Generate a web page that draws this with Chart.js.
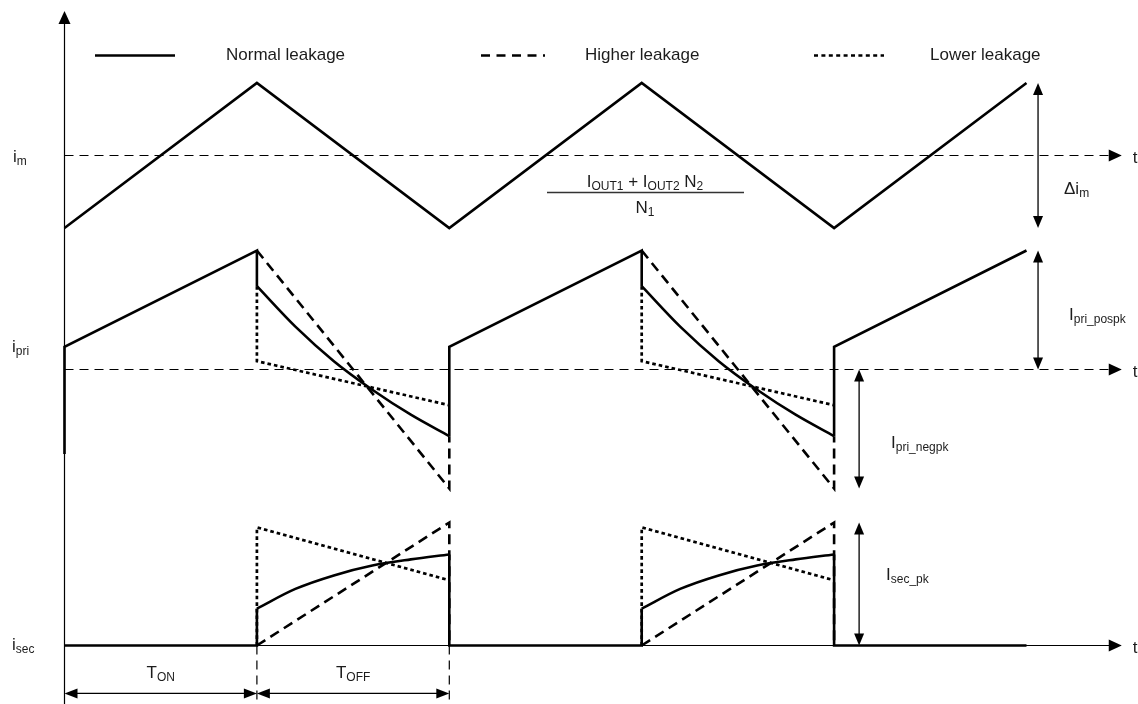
<!DOCTYPE html>
<html>
<head>
<meta charset="utf-8">
<title>Flyback current waveforms</title>
<script src="https://cdn.jsdelivr.net/npm/chart.js@4.4.1/dist/chart.umd.min.js"></script>
<style>
  html, body { margin: 0; padding: 0; background: #ffffff; }
  #wrap { width: 1138px; height: 704px; position: relative; }
</style>
</head>
<body>
<div id="wrap"><canvas id="chart"></canvas></div>
<script>
// Flyback converter currents: magnetising (i_m), primary (i_pri) and secondary (i_sec)
// for normal, higher and lower transformer leakage.
// Time is counted in switch intervals: T_ON = T_OFF = 1.

const seriesNames = ['Normal leakage', 'Higher leakage', 'Lower leakage'];
const signalLabels = [['i', 'm'], ['i', 'pri'], ['i', 'sec']];
const intervalLabels = [['T', 'ON'], ['T', 'OFF']];
const spanLabels = [['\u0394i', 'm'], ['I', 'pri_pospk'], ['I', 'pri_negpk'], ['I', 'sec_pk']];
const numeratorParts = [['I', 0], ['OUT1', 1], [' + I', 0], ['OUT2', 1], [' N', 0], ['2', 1]];
const denominatorParts = [['N', 0], ['1', 1]];

// magnetising current, relative to its mean, at each switching edge
const rampTimes = [0, 1, 2, 3, 4, 5];
const imValues = [-1, 1, -1, 1, -1, 1];

// start of each T_OFF interval and sample positions inside it
const offStarts = [1, 3];
const offFraction = [0, 0.2, 0.4, 0.6, 0.8, 1];

// primary current (peak = 1)
const priPrevEnd = -0.71;
const priOnStart = 0.19;
const priPeak = 1.0;
const priNormalOff = [0.70, 0.36, 0.07, -0.17, -0.38, -0.56];
const priHigherOff = [1.0, -1.0];
const priLowerOff = [0.07, -0.30];

// secondary current (higher-leakage peak = 1)
const secNormalOff = [0.30, 0.46, 0.57, 0.65, 0.70, 0.74];
const secHigherOff = [0, 1.0];
const secLowerOff = [0.96, 0.53];

// ---- layout -------------------------------------------------------------
const W = 1138, H = 704;
const X_ZERO_PX = 64.5, X_UNIT_PX = 192.4;
const T_AXIS_END = 5.49;           // where the time axes end in their arrows
const GUIDE_BOTTOM = -0.48;        // T_ON / T_OFF guides, secondary scale
const SPAN_LEVEL = -0.39;          // T_ON / T_OFF dimension arrows
const panels = {
  yM: { zero: 155.5, unit: 72.5 },
  yP: { zero: 369.5, unit: 119 },
  yS: { zero: 645.5, unit: 123 }
};
const FONT = "'Liberation Sans', Arial, Helvetica, sans-serif";
const INK = '#000000';
const TEXT = '#1c1c1c';

function range(p) { return { min: (p.zero - H) / p.unit, max: p.zero / p.unit }; }

const P = (x, y) => ({ x, y });
const GAP = x => ({ x, y: null });

// ---- datasets -----------------------------------------------------------
const imData = rampTimes.map((t, i) => P(t, imValues[i]));

const priNormalLines = [P(0, priPrevEnd), P(0, priOnStart)];
offStarts.forEach(t0 => {
  priNormalLines.push(P(t0, priPeak), P(t0, priNormalOff[0]), GAP(t0 + 0.5),
    P(t0 + 1, priNormalOff[priNormalOff.length - 1]), P(t0 + 1, priOnStart));
});
priNormalLines.push(P(rampTimes[rampTimes.length - 1], priPeak));

const priHigher = [];
const priLower = [];
offStarts.forEach(t0 => {
  priHigher.push(P(t0, priHigherOff[0]), P(t0 + 1, priHigherOff[1]),
    P(t0 + 1, priNormalOff[priNormalOff.length - 1]), GAP(t0 + 1.5));
  priLower.push(P(t0, priNormalOff[0]), P(t0, priLowerOff[0]), P(t0 + 1, priLowerOff[1]), GAP(t0 + 1.5));
});

const secNormalLines = [P(0, 0)];
offStarts.forEach(t0 => {
  secNormalLines.push(P(t0, 0), P(t0, secNormalOff[0]), GAP(t0 + 0.5),
    P(t0 + 1, secNormalOff[secNormalOff.length - 1]), P(t0 + 1, 0));
});
secNormalLines.push(P(rampTimes[rampTimes.length - 1], 0));

const secHigher = [];
const secLower = [];
offStarts.forEach(t0 => {
  secHigher.push(P(t0, secHigherOff[0]), P(t0 + 1, secHigherOff[1]), P(t0 + 1, 0), GAP(t0 + 1.5));
  secLower.push(P(t0, 0), P(t0, secLowerOff[0]), P(t0 + 1, secLowerOff[1]), GAP(t0 + 1.5));
});

const guides = [P(offStarts[0], 0), P(offStarts[0], GUIDE_BOTTOM), GAP(offStarts[0] + 0.5),
  P(offStarts[0] + 1, 0), P(offStarts[0] + 1, GUIDE_BOTTOM)];

const SOLID = { borderColor: INK, borderWidth: 2.6, borderDash: [] };
const DASHED = { borderColor: INK, borderWidth: 2.6, borderDash: [10, 6] };
const DOTTED = { borderColor: INK, borderWidth: 2.7, borderDash: [3.6, 3] };
const THIN_DASH = { borderColor: INK, borderWidth: 1.2, borderDash: [9, 6] };
const THIN = { borderColor: INK, borderWidth: 1.2, borderDash: [] };

const datasets = [];
function add(data, axis, style, curve) {
  datasets.push(Object.assign({
    data, yAxisID: axis, pointRadius: 0, fill: false, spanGaps: false,
    tension: curve ? 0.4 : 0,
    cubicInterpolationMode: curve ? 'monotone' : 'default',
    borderCapStyle: 'butt', borderJoinStyle: 'miter'
  }, style));
}

// reference time axes
add([P(0, 0), P(T_AXIS_END, 0)], 'yM', THIN_DASH);
add([P(0, 0), P(T_AXIS_END, 0)], 'yP', THIN_DASH);
add([P(0, 0), P(T_AXIS_END, 0)], 'yS', THIN);
add(guides, 'yS', THIN_DASH);

// higher / lower leakage
add(priHigher, 'yP', DASHED);
add(secHigher, 'yS', DASHED);
add(priLower, 'yP', DOTTED);
add(secLower, 'yS', DOTTED);

// normal leakage
add(imData, 'yM', SOLID);
add(priNormalLines, 'yP', SOLID);
add(secNormalLines, 'yS', SOLID);
offStarts.forEach(t0 => {
  add(offFraction.map((f, i) => P(t0 + f, priNormalOff[i])), 'yP', SOLID, true);
  add(offFraction.map((f, i) => P(t0 + f, secNormalOff[i])), 'yS', SOLID, true);
});

// ---- drawing helpers ----------------------------------------------------
function arrowHead(ctx, x, y, dx, dy, len, half) {
  ctx.beginPath();
  ctx.moveTo(x, y);
  ctx.lineTo(x - dx * len - dy * half, y - dy * len + dx * half);
  ctx.lineTo(x - dx * len + dy * half, y - dy * len - dx * half);
  ctx.closePath();
  ctx.fill();
}
function doubleArrow(ctx, x1, y1, x2, y2, len, half, lw) {
  const d = Math.hypot(x2 - x1, y2 - y1), dx = (x2 - x1) / d, dy = (y2 - y1) / d;
  ctx.save();
  ctx.setLineDash([]);
  ctx.lineWidth = lw;
  ctx.beginPath();
  ctx.moveTo(x1 + dx * (len - 1), y1 + dy * (len - 1));
  ctx.lineTo(x2 - dx * (len - 1), y2 - dy * (len - 1));
  ctx.stroke();
  arrowHead(ctx, x2, y2, dx, dy, len, half);
  arrowHead(ctx, x1, y1, -dx, -dy, len, half);
  ctx.restore();
}
function richText(ctx, x, y, parts, size, subSize, align) {
  const mainFont = size + 'px ' + FONT, subFont = subSize + 'px ' + FONT;
  let w = 0;
  parts.forEach(([s, sub]) => { ctx.font = sub ? subFont : mainFont; w += ctx.measureText(s).width; });
  let cx = align === 'center' ? x - w / 2 : x;
  ctx.textAlign = 'left';
  ctx.textBaseline = 'alphabetic';
  parts.forEach(([s, sub]) => {
    ctx.font = sub ? subFont : mainFont;
    ctx.fillText(s, cx, sub ? y + 3 : y);
    cx += ctx.measureText(s).width;
  });
}
const label = (l) => [[l[0], 0], [l[1], 1]];

const overlay = {
  id: 'overlay',
  afterDatasetsDraw(chart) {
    const ctx = chart.ctx, s = chart.scales;
    const X = v => s.x.getPixelForValue(v);
    ctx.save();
    ctx.fillStyle = INK;
    ctx.strokeStyle = INK;

    // vertical axis with arrow
    const x0 = X(0);
    ctx.lineWidth = 1.2;
    ctx.beginPath();
    ctx.moveTo(x0, H);
    ctx.lineTo(x0, 22);
    ctx.stroke();
    arrowHead(ctx, x0, 11, 0, -1, 13, 6);

    // time-axis arrows and "t"
    ['yM', 'yP', 'yS'].forEach(id => {
      const y = s[id].getPixelForValue(0);
      arrowHead(ctx, X(T_AXIS_END) + 1, y, 1, 0, 13, 6);
      ctx.fillStyle = TEXT;
      ctx.font = '17px ' + FONT;
      ctx.textAlign = 'left';
      ctx.textBaseline = 'alphabetic';
      ctx.fillText('t', X(T_AXIS_END) + 12, y + 7);
      ctx.fillStyle = INK;
    });

    // legend
    const legendY = 55.5;
    const legend = [
      { x1: 95, x2: 175, tx: 226, dash: [], w: 2.6 },
      { x1: 481, x2: 545, tx: 585, dash: [9, 6.5], w: 2.6 },
      { x1: 814, x2: 884, tx: 930, dash: [4, 3.4], w: 2.7 }
    ];
    legend.forEach((l, i) => {
      ctx.save();
      ctx.lineWidth = l.w;
      ctx.setLineDash(l.dash);
      ctx.beginPath();
      ctx.moveTo(l.x1, legendY);
      ctx.lineTo(l.x2, legendY);
      ctx.stroke();
      ctx.restore();
      ctx.fillStyle = TEXT;
      ctx.font = '17px ' + FONT;
      ctx.textAlign = 'left';
      ctx.textBaseline = 'middle';
      ctx.fillText(seriesNames[i], l.tx, legendY);
      ctx.fillStyle = INK;
    });

    // dimension arrows
    const tRight = 5.06, tMid = 4.13;
    doubleArrow(ctx, X(tRight), s.yM.getPixelForValue(1), X(tRight), s.yM.getPixelForValue(-1), 12, 5, 1.3);
    doubleArrow(ctx, X(tRight), s.yP.getPixelForValue(priPeak), X(tRight), s.yP.getPixelForValue(0), 12, 5, 1.3);
    doubleArrow(ctx, X(tMid), s.yP.getPixelForValue(0), X(tMid), s.yP.getPixelForValue(priHigherOff[1]), 12, 5, 1.3);
    doubleArrow(ctx, X(tMid), s.yS.getPixelForValue(secHigherOff[1]), X(tMid), s.yS.getPixelForValue(0), 12, 5, 1.3);
    const ySpan = s.yS.getPixelForValue(SPAN_LEVEL);
    doubleArrow(ctx, X(0), ySpan, X(1), ySpan, 13, 5, 1.3);
    doubleArrow(ctx, X(1), ySpan, X(2), ySpan, 13, 5, 1.3);

    // text labels
    ctx.fillStyle = TEXT;
    richText(ctx, 13, s.yM.getPixelForValue(0) + 6, label(signalLabels[0]), 17, 12);
    richText(ctx, 12, s.yP.getPixelForValue(0) - 18, label(signalLabels[1]), 17, 12);
    richText(ctx, 12, s.yS.getPixelForValue(0) + 4, label(signalLabels[2]), 17, 12);

    richText(ctx, 1064, 194, label(spanLabels[0]), 17, 12);
    richText(ctx, 1069, 320, label(spanLabels[1]), 17, 12);
    richText(ctx, 891, 448, label(spanLabels[2]), 17, 12);
    richText(ctx, 886, 580, label(spanLabels[3]), 17, 12);

    richText(ctx, (X(0) + X(1)) / 2, 678, label(intervalLabels[0]), 17, 12, 'center');
    richText(ctx, (X(1) + X(2)) / 2, 678, label(intervalLabels[1]), 17, 12, 'center');

    // mean magnetising current
    const fx = 645;
    richText(ctx, fx, 187, numeratorParts, 17, 12, 'center');
    ctx.lineWidth = 1.3;
    ctx.strokeStyle = '#333';
    ctx.beginPath();
    ctx.moveTo(547, 192.5);
    ctx.lineTo(744, 192.5);
    ctx.stroke();
    richText(ctx, fx, 213, denominatorParts, 17, 12, 'center');

    ctx.restore();
  }
};

const scales = {
  x: { type: 'linear', display: false,
       min: -X_ZERO_PX / X_UNIT_PX, max: (W - X_ZERO_PX) / X_UNIT_PX }
};
Object.keys(panels).forEach(id => {
  const r = range(panels[id]);
  scales[id] = { type: 'linear', display: false, position: 'left', min: r.min, max: r.max };
});

new Chart(document.getElementById('chart'), {
  type: 'line',
  data: { datasets },
  options: {
    responsive: true,
    maintainAspectRatio: false,
    animation: false,
    events: [],
    layout: { padding: 0 },
    parsing: true,
    plugins: { legend: { display: false }, tooltip: { enabled: false } },
    scales
  },
  plugins: [overlay]
});
</script>
</body>
</html>
